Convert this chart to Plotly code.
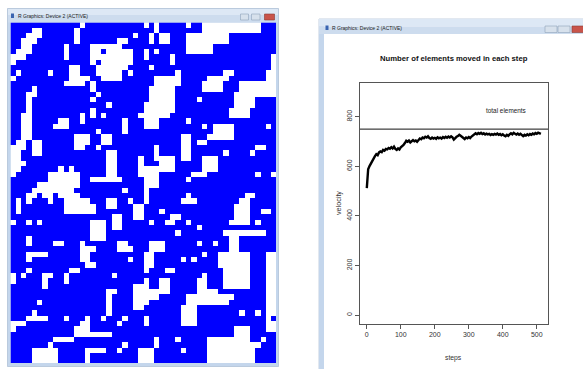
import plotly.graph_objects as go

# ---------------- data ----------------
# lattice state: 64 rows x 50 columns, blue = occupied, white = empty.
# Each row lists its empty (white) columns, "a-b" meaning a run a..b.
N_ROWS, N_COLS = 64, 50
GRID_WHITE = [
    "13 25 27 33 36-46",
    "4-5 12 27 36-46",
    "3-5 12 23 26 28-29 33-40",
    "2-4 12 20-21 26 28-29 33-40",
    "2-3 10 15-20 33-37",
    "1-3 10 15-16 18-22 25 27 33-37",
    "0-2 10 15-22 25 30 49",
    "0 15 17-22 30 49",
    "11-12 16-21 26 49",
    "1 7 11-12 16-20 22 31 40-41 48-49",
    "0 11-14 17-20 27-31 37-40 48-49",
    "10-13 15 27-31 36-39 43-49",
    "4 15 26-30 36-39 43-49",
    "3-4 16 26-30 42-49",
    "3 15 26-30 35 42-45",
    "3 18 25-30 42-45",
    "3 15 25-30 41-44",
    "2-3 13 15 17 24-29 41-44",
    "2-3 9-10 13 21 25-27 33",
    "2-3 8-10 21 25-27 36 38-41 48",
    "2-3 16 21 38-41",
    "2-3 12-14 17-18 32-33 37-41",
    "1-2 4-5 12-14 17-18 32-33 35-36",
    "0-2 4-5 12-13 16 27 32-33 46-47",
    "0-1 4-5 18-19 27 32-33 40 45",
    "0-1 18-19 24 27-30 32-33 36-38",
    "0-2 18-19 24 28-30 36-38",
    "0-1 9 11 18-19 24-30 36-38",
    "0 7-12 18-19 24-27 34-36 46 49",
    "7-12 15-20 25-27 33",
    "5-12 25-27",
    "4-11 21 25",
    "3-4 6-7 9-12 25 33 44-45",
    "1 3 7 10-14 18-19 22 25 32-34 43-44",
    "1 10-15 18-19 23-24 42-44",
    "1 10-15 23-24 28 42-44 47-48",
    "19-20 23-24 30-31 42-44",
    "0 3 5 15-17 19-20 26 29-30 33 41-44 46",
    "15-17 19-20 35",
    "15-17 31 40-47",
    "3 15-17 41-42",
    "3 8-9 13 20-21 26-28 35 38 41-42",
    "13-15 20-22 26-28 41-42",
    "3-6 13-14 25-26 36 39-44 48-49",
    "3 13-14 22 25-26 32 34 39-44 48-49",
    "14-15 25-26 39-44 48-49",
    "3 11-12 25 29-30 40-44 48-49",
    "0 2 6-7 10 19 36 40-44 48-49",
    "0 6 10 25 28-29 35-36 40-44 48-49",
    "6 23-25 28-29 35-36 40-44 48-49",
    "18-19 23-29 35-38 48-49",
    "18 23-27 33-41 48-49",
    "5 18 23-25 33-40 48-49",
    "18 23-24 32-34 48-49",
    "4 18 32-34 43 46 48-49",
    "3-6 10 14 17 21 25 32-34 48",
    "0-2 13-14 20 25 32-34 48-49",
    "0 12-14 42-44 48-49",
    "12-18 42-44",
    "8-11 27 31 37-44 47",
    "7 21 27 37-46",
    "4-8 14-17 20 24-26 32 37-45",
    "4-8 14 24-26 37-45",
    "4-8 14 24-26 37-45",
]

# number of elements moved per step (sampled every 4 steps)
STEPS = list(range(0, 513, 4))
MOVED = [
    512, 588, 601, 612, 622, 633, 641, 649, 645, 656, 660, 657, 666, 663, 670, 668,
    674, 671, 677, 672, 679, 670, 666, 672, 668, 677, 681, 686, 694, 703, 699, 704,
    696, 700, 706, 701, 704, 699, 707, 712, 709, 716, 713, 719, 716, 721, 714, 711,
    716, 712, 715, 711, 717, 713, 716, 712, 718, 714, 719, 715, 720, 716, 721, 717,
    708, 715, 719, 722, 727, 723, 718, 714, 710, 716, 713, 718, 714, 720, 724, 730,
    733, 729, 734, 731, 735, 730, 733, 728, 732, 729, 731, 726, 730, 727, 731, 728,
    732, 727, 730, 725, 729, 724, 721, 727, 723, 729, 733, 729, 735, 731, 728, 732,
    727, 731, 726, 722, 727, 724, 729, 725, 730, 727, 732, 729, 734, 731, 736, 733,
    731,
]
TOTAL_ELEMENTS = 750
X_TICKS = [0, 100, 200, 300, 400, 500]
Y_TICKS = [0, 200, 400, 600, 800]

# ---------------- helpers ----------------
W, H = 583, 369


def fx(x):
    return x / W


def fy(y):
    return 1 - y / H


def parse_runs(spec):
    cols = []
    for tok in spec.split():
        if "-" in tok:
            a, b = tok.split("-")
            cols.extend(range(int(a), int(b) + 1))
        else:
            cols.append(int(tok))
    return cols


z = [[1] * N_COLS for _ in range(N_ROWS)]
for r, spec in enumerate(GRID_WHITE):
    for c in parse_runs(spec):
        z[r][c] = 0

FONT = "Liberation Sans, Arial, sans-serif"
FRAME = "#c4d6ec"
BAR_TOP = "#dde8f5"
BAR_BOT = "#cddcee"

fig = go.Figure()

# lattice
fig.add_trace(go.Heatmap(
    z=z, x=list(range(N_COLS)), y=list(range(N_ROWS)),
    colorscale=[[0, "#ffffff"], [1, "#0000ff"]], zmin=0, zmax=1,
    showscale=False, hoverinfo="skip", xaxis="x", yaxis="y",
))

# moved-elements curve
fig.add_trace(go.Scatter(
    x=STEPS, y=MOVED, mode="lines",
    line=dict(color="#000000", width=2.4),
    xaxis="x2", yaxis="y2", hoverinfo="skip", showlegend=False,
))

shapes = []


def rect(x0, y0, x1, y1, fill, line=None, layer="below", lw=0):
    shapes.append(dict(
        type="rect", xref="paper", yref="paper",
        x0=fx(x0), x1=fx(x1), y0=fy(y1), y1=fy(y0),
        fillcolor=fill, layer=layer,
        line=dict(width=lw, color=line or fill),
    ))


# left window
rect(7.5, 8.5, 278.5, 366.5, FRAME, line="#9fb4cc", lw=0.6)
rect(8, 9, 278, 15, BAR_TOP)
rect(8, 15, 278, 22.5, BAR_BOT)
rect(11, 13.5, 14, 18, "#3a64b0", layer="above")
rect(240.5, 14, 248.5, 20, "#d7e1ec", line="#8ea3bb", lw=0.6, layer="above")
rect(251.5, 14, 260, 20, "#d7e1ec", line="#8ea3bb", lw=0.6, layer="above")
rect(264.5, 14, 274.5, 20, "#c9544a", line="#8a3a33", lw=0.6, layer="above")

# right window
rect(319, 19, 590, 372, "#ffffff", line="#9fb4cc", lw=0.6)
rect(319, 19, 324, 372, FRAME)
rect(319, 19, 590, 26.5, BAR_TOP)
rect(319, 26.5, 590, 34, BAR_BOT)
rect(325.5, 25.5, 328.5, 30, "#3a64b0", layer="above")
rect(545, 26, 557, 32.5, "#d7e1ec", line="#8ea3bb", lw=0.6, layer="above")
rect(558, 26, 570, 32.5, "#d7e1ec", line="#8ea3bb", lw=0.6, layer="above")
rect(572, 26, 590, 32.5, "#c9544a", line="#8a3a33", lw=0.6, layer="above")

# total elements reference line
shapes.append(dict(
    type="line", xref="x2 domain", yref="y2", x0=0, x1=1,
    y0=TOTAL_ELEMENTS, y1=TOTAL_ELEMENTS,
    line=dict(color="#111111", width=1), layer="above",
))

annotations = [
    dict(text="R Graphics: Device 2 (ACTIVE)", x=fx(15.5), y=fy(16.5),
         xanchor="left", yanchor="middle", font=dict(size=5, color="#222222", family=FONT)),
    dict(text="R Graphics: Device 2 (ACTIVE)", x=fx(330), y=fy(28),
         xanchor="left", yanchor="middle", font=dict(size=5, color="#222222", family=FONT)),
    dict(text="<b>Number of elements moved in each step</b>", x=fx(454), y=fy(59),
         xanchor="center", yanchor="middle", font=dict(size=7.7, color="#111111", family=FONT)),
    dict(text="velocity", x=fx(338), y=fy(203), textangle=-90,
         xanchor="center", yanchor="middle", font=dict(size=7.2, color="#333333", family=FONT)),
    dict(text="steps", x=fx(453), y=fy(358),
         xanchor="center", yanchor="middle", font=dict(size=6.8, color="#333333", family=FONT)),
    dict(text="total elements", x=408, y=824, xref="x2", yref="y2",
         xanchor="center", yanchor="middle", font=dict(size=6.4, color="#222222", family=FONT)),
]
for a in annotations:
    a.setdefault("xref", "paper")
    a.setdefault("yref", "paper")
    a["showarrow"] = False

axis_common = dict(
    showline=True, mirror=True, linecolor="#555555", linewidth=1,
    ticks="outside", ticklen=4, tickwidth=1, tickcolor="#555555",
    showgrid=False, zeroline=False,
    tickfont=dict(size=7, color="#333333", family=FONT),
)

fig.update_layout(
    width=W, height=H,
    margin=dict(l=0, r=0, t=0, b=0),
    paper_bgcolor="#ffffff", plot_bgcolor="rgba(0,0,0,0)",
    showlegend=False,
    xaxis=dict(domain=[fx(10.5), fx(276)], range=[-0.5, N_COLS - 0.5],
               visible=False, fixedrange=True),
    yaxis=dict(domain=[fy(363), fy(22.5)], range=[N_ROWS - 0.5, -0.5],
               visible=False, fixedrange=True),
    xaxis2=dict(domain=[fx(360), fx(548)], range=[-20, 533], anchor="y2",
                tickvals=X_TICKS, **axis_common),
    yaxis2=dict(domain=[fy(324), fy(83)], range=[-36, 936], anchor="x2",
                tickvals=Y_TICKS, tickangle=-90, **axis_common),
    shapes=shapes,
    annotations=annotations,
)

fig.write_html("out.html")
